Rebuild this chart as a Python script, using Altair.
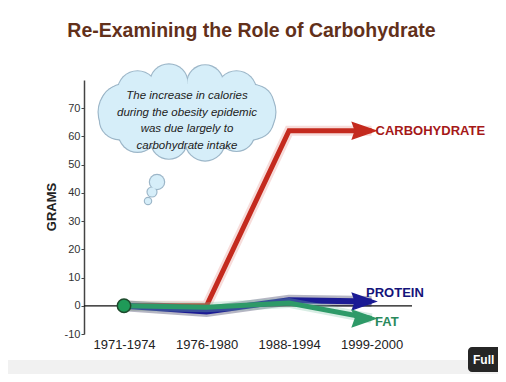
import altair as alt
import numpy as np
import pandas as pd

# ---------------- data ----------------
periods = ["1971-1974", "1976-1980", "1988-1994", "1999-2000"]
carbohydrate = [0, 0, 62, 62]
protein = [0, -2, 2, 1.5]
fat = [0, -0.5, 1, -4.5]
y_ticks = [-10, 0, 10, 20, 30, 40, 50, 60, 70]
cloud_lines = ["The increase in calories", "during the obesity epidemic",
               "was due largely to", "carbohydrate intake"]
title_text = "Re-Examining the Role of Carbohydrate"

# ---------------- layout ----------------
W, H = 414, 254
X_DOMAIN = [-0.485, 4.533]
Y_DOMAIN = [-10, 80]
FONT = "Liberation Sans"
xs = alt.Scale(domain=X_DOMAIN, nice=False, zero=False)
ys = alt.Scale(domain=Y_DOMAIN, nice=False, zero=False)
ARROW = "M 0 0 L -2 -0.7 L -1.75 0 L -2 0.7 Z"


def sdf(vals):
    return pd.DataFrame({"i": list(range(len(vals))), "v": vals})


def X(axis=None, field="i"):
    if axis is None:
        return alt.X(f"{field}:Q", scale=xs)
    return alt.X(f"{field}:Q", scale=xs, axis=axis)


def Y(axis=None, field="v"):
    if axis is None:
        return alt.Y(f"{field}:Q", scale=ys)
    return alt.Y(f"{field}:Q", scale=ys, axis=axis)


label_expr = "[" + ",".join("'%s'" % p for p in periods) + "][datum.value]"
x_axis = alt.Axis(values=list(range(len(periods))), labelExpr=label_expr, title=None,
                  domain=False, ticks=False, grid=False, labelFontSize=13,
                  labelFont=FONT, labelColor="#222222", labelPadding=4,
                  labelOverlap=False)
y_axis = alt.Axis(values=y_ticks, labelExpr="'' + datum.value", title=None, grid=False,
                  domainColor="#444444", domainWidth=1.5, tickColor="#444444", tickSize=3,
                  labelFontSize=11, labelFont=FONT, labelColor="#333333", labelPadding=1,
                  labelOverlap=False, labelBound=False, labelFlush=False,
                  tickCount=len(y_ticks))

layers = []

# axes layer (invisible points carrying the shared scales and axes)
layers.append(alt.Chart(sdf(carbohydrate)).mark_point(opacity=0).encode(
    x=X(x_axis), y=Y(y_axis)))

deco = alt.Chart(pd.DataFrame({"a": [0]}))
# screenshot frame bits
layers.append(deco.mark_rect(color="#f1f1f1").encode(
    x=alt.value(-76), x2=alt.value(414), y=alt.value(280), y2=alt.value(294)))
layers.append(deco.mark_rect(color="#262626", cornerRadius=4).encode(
    x=alt.value(384), x2=alt.value(420), y=alt.value(267), y2=alt.value(292)))
layers.append(deco.mark_text(text="Full", color="white", font=FONT, fontWeight="bold",
                             fontSize=12, align="left", baseline="middle").encode(
    x=alt.value(389), y=alt.value(280)))

# title
layers.append(deco.mark_text(text=title_text, color="#62301a", font=FONT, fontWeight="bold",
                             fontSize=19.5, align="center", baseline="alphabetic").encode(
    x=alt.value(167.5), y=alt.value(-43)))

# y axis title
layers.append(deco.mark_text(text="GRAMS", color="#222222", font=FONT, fontWeight="bold",
                             fontSize=13, angle=270, align="center", baseline="middle").encode(
    x=alt.value(-32), y=alt.value(127)))

# cloud (circles positioned in plot pixels, converted to the chart's data units)
cx, cy = 103, 32
ang = np.deg2rad(np.arange(15, 375, 30))
rad = np.array([21, 20, 22, 20, 21, 22, 20, 22, 21, 20, 22, 21])
puffs = pd.DataFrame({"px": cx + 70 * np.cos(ang), "py": cy + 30 * np.sin(ang), "r": rad})
core = pd.DataFrame({"px": np.arange(cx - 60, cx + 61, 20), "py": cy, "r": 32})
bubbles = pd.DataFrame({"px": [73, 68, 64], "py": [102, 112, 121], "r": [8, 5, 3.5]})
cloud = pd.concat([puffs, core, bubbles], ignore_index=True)
cloud["cxv"] = X_DOMAIN[0] + cloud["px"] * (X_DOMAIN[1] - X_DOMAIN[0]) / W
cloud["cyv"] = Y_DOMAIN[1] - cloud["py"] * (Y_DOMAIN[1] - Y_DOMAIN[0]) / H
cloud["s_out"] = np.pi * (cloud["r"] + 1.3) ** 2
cloud["s_in"] = np.pi * cloud["r"] ** 2
cbase = alt.Chart(cloud)
cenc = dict(x=X(field="cxv"), y=Y(field="cyv"))
layers.append(cbase.mark_circle(color="#9cb6c8", opacity=1).encode(
    size=alt.Size("s_out:Q", scale=None, legend=None), **cenc))
layers.append(cbase.mark_circle(color="#d6eef9", opacity=1).encode(
    size=alt.Size("s_in:Q", scale=None, legend=None), **cenc))
layers.append(deco.mark_text(text=cloud_lines, color="#222222", font=FONT, fontStyle="italic",
                             fontSize=11.5, lineHeight=16.7, align="center",
                             baseline="alphabetic").encode(
    x=alt.value(103), y=alt.value(19)))

# zero line
layers.append(alt.Chart(pd.DataFrame({"v": [0]})).mark_rule(color="#111111", strokeWidth=1.3).encode(
    y=Y(), x=alt.value(0), x2=alt.value(328)))


def series_layers(vals, color, glow, width, glow_op):
    base = alt.Chart(sdf(vals))
    out = [base.mark_line(color=glow, strokeWidth=width + 5, opacity=glow_op,
                          strokeJoin="miter", strokeCap="butt").encode(
        x=X(), y=Y(), order="i:Q")]
    out.append(base.mark_line(color=color, strokeWidth=width, strokeJoin="miter",
                              strokeCap="butt").encode(x=X(), y=Y(), order="i:Q"))
    out.append(base.transform_filter(alt.datum.i == len(vals) - 1).mark_point(
        shape=ARROW, size=529, filled=True, fill=color, stroke=color, strokeWidth=1.5,
        opacity=1, xOffset=4).encode(x=X(), y=Y()))
    return out


layers += series_layers(carbohydrate, "#c42a1e", "#e79a94", 5, 0.35)
layers += series_layers(protein, "#1b1b94", "#0c0c3a", 6, 0.3)
layers += series_layers(fat, "#2e9a68", "#7fc4a4", 5, 0.3)

# start marker
layers.append(alt.Chart(sdf(fat[:1])).mark_point(
    shape="circle", size=180, filled=True, fill="#1f9a58", stroke="#1d4a2c",
    strokeWidth=1.5, opacity=1).encode(x=X(), y=Y()))

# series labels
lab = [("CARBOHYDRATE", carbohydrate, "#a51818", 4, 0),
       ("PROTEIN", protein, "#14147a", -5.5, -8.5),
       ("FAT", fat, "#2a8a5c", 3.5, 3.6)]
for name, vals, col, dx, dy in lab:
    layers.append(alt.Chart(sdf(vals[-1:]).assign(i=len(vals) - 1)).mark_text(
        text=name, color=col, font=FONT, fontWeight="bold", fontSize=13,
        align="left", baseline="middle", dx=dx, dy=dy).encode(x=X(), y=Y()))

chart = alt.layer(*layers).properties(
    width=W, height=H,
    autosize=alt.AutoSizeParams(type="none"),
    padding={"left": 76, "top": 72, "right": 0, "bottom": 40},
    background="white",
).configure_view(stroke=None).configure_axis(
    labelOverlap=False, labelBound=False, labelFlush=False
)

chart.save("out.html", embed_options={"renderer": "svg", "actions": False})
